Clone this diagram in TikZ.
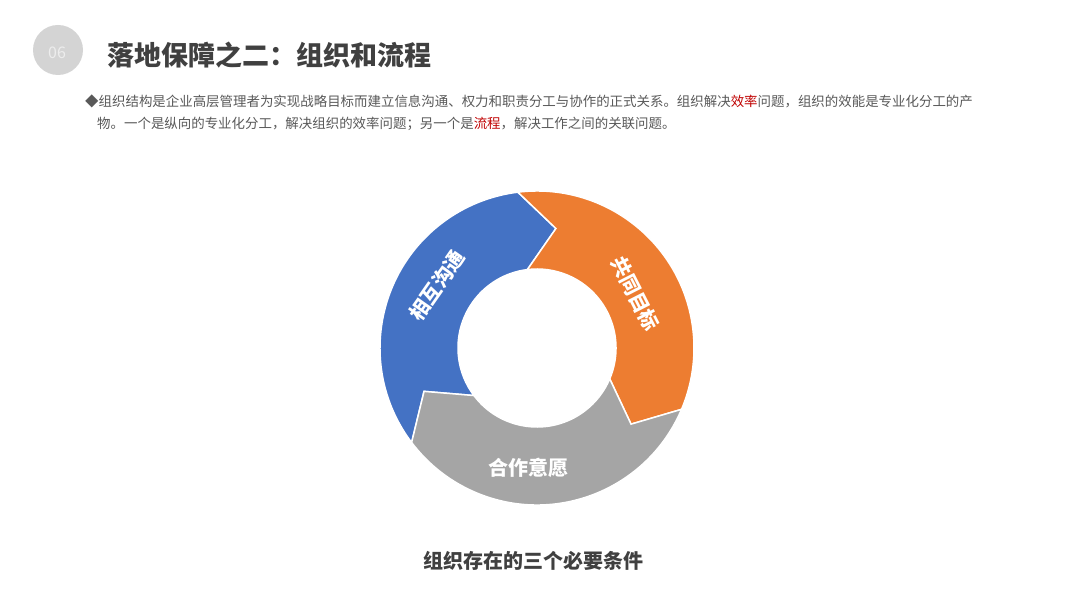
\documentclass[tikz,border=0pt]{standalone}
\usepackage{fontspec}
\setmainfont{Noto Sans CJK SC}
\definecolor{ringblue}{HTML}{4472C4}
\definecolor{ringorange}{HTML}{ED7D31}
\definecolor{ringgray}{HTML}{A5A5A5}
\definecolor{darktext}{HTML}{404040}
\definecolor{bodytext}{HTML}{595959}
\definecolor{hilite}{HTML}{C00000}
\begin{document}
\begin{tikzpicture}[x=1pt, y=1pt,
    seglabel/.style={text=white, font=\fontsize{20}{24}\selectfont\bfseries, inner sep=0pt},
    bodyline/.style={text=bodytext, font=\fontsize{13.45}{16}\selectfont, anchor=west, inner sep=0pt}]
    \useasboundingbox[fill=white] (0,0) rectangle (1080,608);

    % page header
    \fill[black!17] (58,558) circle (25);
    \node[text=black!7, font=\fontsize{16}{18}\selectfont, inner sep=0pt] (badge) at (57,555) {06};
    \node[text=darktext, font=\fontsize{27}{32}\selectfont\bfseries, anchor=west, inner sep=0pt] (title) at (107,553) {落地保障之二：组织和流程};

    % body text
    \node[bodyline] (line1) at (85,507) {◆组织结构是企业高层管理者为实现战略目标而建立信息沟通、权力和职责分工与协作的正式关系。组织解决\textcolor{hilite}{效率}问题，组织的效能是专业化分工的产};
    \node[bodyline] (line2) at (97,484) {物。一个是纵向的专业化分工，解决组织的效率问题；另一个是\textcolor{hilite}{流程}，解决工作之间的关联问题。};

    % ring of three arrows
    \begin{scope}[shift={(537,260)}]
        \foreach \a/\col in {217/ringblue, 97/ringorange, -23/ringgray}
            \filldraw[fill=\col, draw=white, line width=1.5pt, line join=miter]
                (\a:157) arc[start angle=\a, end angle=\a-120, radius=157pt]
                -- (\a-136:121) -- (\a-120:79)
                arc[start angle=\a-120, end angle=\a, radius=79pt]
                -- (\a-16:121) -- cycle;
        \node[seglabel, rotate=55] (talk) at (148:118) {相互沟通};
        \node[seglabel, rotate=-63] (goal) at (29:112) {共同目标};
        \node[seglabel] (will) at (266:120) {合作意愿};
    \end{scope}

    \node[text=darktext, font=\fontsize{20}{24}\selectfont\bfseries, inner sep=0pt] (caption) at (533,47) {组织存在的三个必要条件};
\end{tikzpicture}
\end{document}
